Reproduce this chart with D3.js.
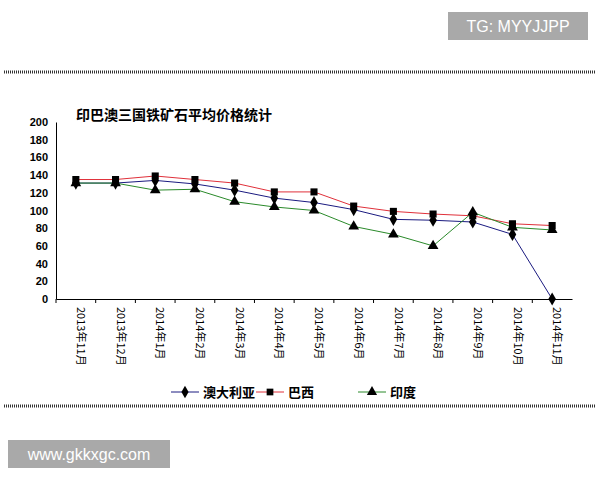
<!DOCTYPE html><html><head><meta charset="utf-8"><script src="https://cdn.jsdelivr.net/npm/d3@7"></script>
<style>body{margin:0;background:#fff}</style></head><body><svg width="600" height="480"></svg>
<script>
const categories=["2013年11月","2013年12月","2014年1月","2014年2月","2014年3月","2014年4月","2014年5月","2014年6月","2014年7月","2014年8月","2014年9月","2014年10月","2014年11月"];
const australia=[131,131,134,130,123,114,109,101,90,89,87,73,0];
const brazil=[135,135,139,135,131,121,121,105,99,96,94,85,83];
const india=[131,131,123,124,110,104,100,82,73,60,98,81,78];
const yTicks=[0,20,40,60,80,100,120,140,160,180,200];
const svg=d3.select("svg");
const F="'Noto Sans CJK SC',sans-serif";
svg.append("rect").attr("x",448).attr("y",12).attr("width",140).attr("height",28).attr("fill","#a9a9a9");
svg.append("text").attr("x",518).attr("y",32).attr("text-anchor","middle").attr("fill","#fff").attr("font-family","Arial,sans-serif").attr("font-size",16).text("TG: MYYJJPP");
svg.append("rect").attr("x",8).attr("y",440).attr("width",162).attr("height",28).attr("fill","#a9a9a9");
svg.append("text").attr("x",89).attr("y",460).attr("text-anchor","middle").attr("fill","#fff").attr("font-family","Arial,sans-serif").attr("font-size",16).text("www.gkkxgc.com");
[72,406].forEach(y=>{svg.append("line").attr("x1",4).attr("x2",596).attr("y1",y).attr("y2",y).attr("stroke","#333").attr("stroke-width",3).attr("stroke-dasharray","1,1");});
svg.append("text").attr("x",76).attr("y",120).attr("font-family",F).attr("font-weight","bold").attr("font-size",14).text("印巴澳三国铁矿石平均价格统计");
const x=d3.scaleBand().domain(categories).range([56,572]);
const y=d3.scaleLinear().domain([0,200]).range([299,122]);
const ya=svg.append("g").attr("transform","translate(56,0)").call(d3.axisLeft(y).tickValues(yTicks).tickSize(0).tickPadding(8));
ya.selectAll("text").attr("font-family","Arial,sans-serif").attr("font-weight","bold").attr("font-size",11);
ya.select(".domain").attr("stroke","#000");
const xa=svg.append("g").attr("transform","translate(0,299)").call(d3.axisBottom(x).tickSize(4).tickSizeOuter(0));
xa.selectAll(".tick line").attr("transform",`translate(${-x.bandwidth()/2},0)`);
xa.selectAll("text").attr("font-family",F).attr("font-size",11).attr("transform","rotate(90)").attr("text-anchor","start").attr("x",8).attr("y",-5).attr("dy","0.35em");
const cx=d=>x(d)+x.bandwidth()/2;
const series=[{n:"澳大利亚",v:australia,c:"#1a1a80",s:d3.symbolDiamond},{n:"巴西",v:brazil,c:"#e0303a",s:d3.symbolSquare},{n:"印度",v:india,c:"#2a8a2a",s:d3.symbolTriangle}];
const line=d3.line().x((d,i)=>cx(categories[i])).y(d=>y(d));
series.forEach(s=>{svg.append("path").attr("d",line(s.v)).attr("fill","none").attr("stroke",s.c).attr("stroke-width",1);});
series.forEach(s=>{svg.selectAll(null).data(s.v).enter().append("path").attr("d",d3.symbol().type(s.s).size(50)).attr("transform",(d,i)=>`translate(${cx(categories[i])},${y(d)})`).attr("fill","#000");});
const lx=[185,270,372];
series.forEach((s,i)=>{const g=svg.append("g").attr("transform",`translate(${lx[i]},392)`);
g.append("line").attr("x1",-14).attr("x2",14).attr("stroke",s.c);
g.append("path").attr("d",d3.symbol().type(s.s).size(45)).attr("fill","#000");
g.append("text").attr("x",18).attr("dy","0.35em").attr("font-family",F).attr("font-weight","bold").attr("font-size",13).text(s.n);});
</script></body></html>
